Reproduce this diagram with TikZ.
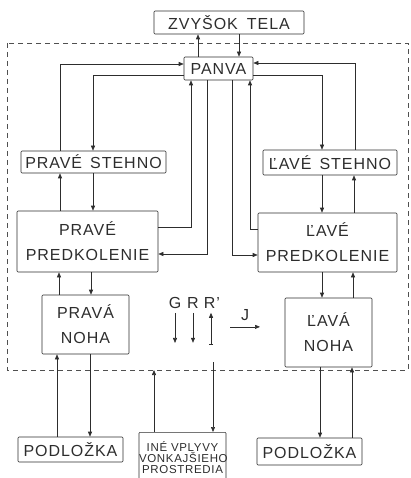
\documentclass[tikz,border=0pt]{standalone}
\usepackage{fontspec}
\setmainfont[LetterSpace=6]{Liberation Sans}
\usetikzlibrary{arrows.meta}

\begin{document}
\begin{tikzpicture}[x=1pt, y=-1pt, line width=0.6pt,
  box/.style={draw=inkcolor, text=inkcolor, inner sep=0pt, rounded corners=1pt,
    align=center, font=\fontsize{16}{25}\selectfont},
  arr/.style={draw=inkcolor, -{Triangle[length=5pt,width=4pt]}},
  lbl/.style={text=inkcolor, inner sep=0pt, font=\fontsize{16}{16}\selectfont}]

\definecolor{inkcolor}{RGB}{45, 45, 45}
\definecolor{bordercolor}{RGB}{80, 80, 80}

\useasboundingbox (0,0) rectangle (410,478);

% system boundary
\draw[bordercolor, dash pattern=on 5pt off 4pt] (7,43) rectangle (408,370);
\coordinate (sysS) at (7,370);

% body segments
\node[box, minimum width=150, minimum height=23] (zvysok) at (229,22.5) {ZVYŠOK\hspace{9pt}TELA};
\node[box, minimum width=69, minimum height=23] (panva) at (218.5,68.5) {PANVA};
\node[box, minimum width=145, minimum height=22] (pstehno) at (93.5,162) {PRAVÉ\ \,STEHNO};
\node[box, minimum width=134, minimum height=25] (lstehno) at (330,162.5) {ĽAVÉ\ \,STEHNO};
\node[box, minimum width=141, minimum height=61] (ppred) at (87.5,241.5) {PRAVÉ\\PREDKOLENIE};
\node[box, minimum width=139, minimum height=59] (lpred) at (327.5,242.5) {ĽAVÉ\\PREDKOLENIE};
\node[box, minimum width=87, minimum height=59] (pnoha) at (85.5,324.5) {PRAVÁ\\NOHA};
\node[box, minimum width=87, minimum height=69] (lnoha) at (328.5,332.5) {ĽAVÁ\\NOHA};

% surroundings
\node[box, minimum width=105, minimum height=25] (ppod) at (70.5,449.5) {PODLOŽKA};
\node[box, minimum width=105, minimum height=27] (lpod) at (309.5,451.5) {PODLOŽKA};
\node[box, anchor=north, minimum width=87, minimum height=50, text width=87,
  font=\fontsize{11.5}{11}\selectfont] (ine) at (182.5,432) {INÉ\ VPLYVY\\VONKAJŠIEHO\\PROSTREDIA};

% pelvis and trunk
\draw[arr] (198,0 |- panva.north) -- (198,0 |- zvysok.south);
\draw[arr] (239,0 |- zvysok.south) -- (239,0 |- panva.north);

% pelvis and thighs
\draw[arr] (60,0 |- pstehno.north) |- (panva.west |- 0,64);
\draw[arr] (panva.west |- 0,75) -| (93,0 |- pstehno.north);
\draw[arr] (355,0 |- lstehno.north) |- (panva.east |- 0,63);
\draw[arr] (panva.east |- 0,75) -| (322,0 |- lstehno.north);

% pelvis and shanks
\draw[arr] (ppred.east |- 0,227) -| (191,0 |- panva.south);
\draw[arr] (207,0 |- panva.south) |- (ppred.east |- 0,254);
\draw[arr] (232,0 |- panva.south) |- (lpred.west |- 0,255);
\draw[arr] (lpred.west |- 0,229) -| (250,0 |- panva.south);

% thighs and shanks
\draw[arr] (60,0 |- ppred.north) -- (60,0 |- pstehno.south);
\draw[arr] (93,0 |- pstehno.south) -- (93,0 |- ppred.north);
\draw[arr] (322,0 |- lstehno.south) -- (322,0 |- lpred.north);
\draw[arr] (354,0 |- lpred.north) -- (354,0 |- lstehno.south);

% shanks and feet
\draw[arr] (59,0 |- pnoha.north) -- (59,0 |- ppred.south);
\draw[arr] (91,0 |- ppred.south) -- (91,0 |- pnoha.north);
\draw[arr] (322,0 |- lpred.south) -- (322,0 |- lnoha.north);
\draw[arr] (353,0 |- lnoha.north) -- (353,0 |- lpred.south);

% feet and ground
\draw[arr] (57,0 |- ppod.north) -- (57,0 |- pnoha.south);
\draw[arr] (90,0 |- pnoha.south) -- (90,0 |- ppod.north);
\draw[arr] (320,0 |- lnoha.south) -- (320,0 |- lpod.north);
\draw[arr] (352,0 |- lpod.north) -- (352,0 |- lnoha.south);

% other influences
\draw[arr] (154,0 |- ine.north) -- (154,0 |- sysS);
\draw[arr] ([yshift=8pt]213,0 |- sysS) -- (213,0 |- ine.north);

% external forces
\node[lbl] (gG) at (175,303) {G};
\node[lbl] (gR) at (193,303) {R};
\node[lbl] (gRr) at (212,303) {R'};
\node[lbl] (jJ) at (245,315) {J};
\draw[arr] ([yshift=-4pt]gG.south) -- ++(0,30);
\draw[arr] ([yshift=-4pt]gR.south) -- ++(0,30);
\draw[draw=inkcolor, {Bar[width=4pt]}-{Triangle[length=5pt,width=4pt]}] ([xshift=-1pt,yshift=-36pt]gRr.south) -- ++(0,-32);
\draw[arr] ([xshift=-15pt,yshift=-6pt]jJ.south) -- ++(30,0);

\end{tikzpicture}
\end{document}
